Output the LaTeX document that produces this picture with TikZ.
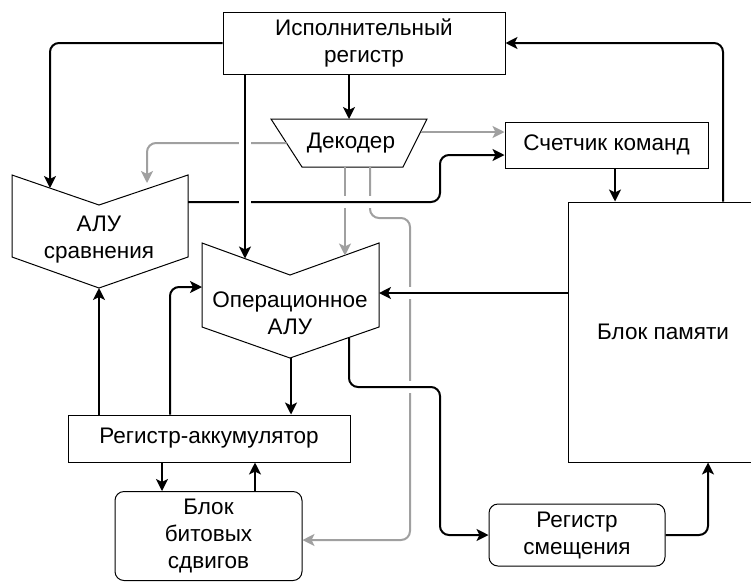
\documentclass[tikz,border=0pt]{standalone}
\usepackage{fontspec}
\setmainfont{Liberation Sans}
\usetikzlibrary{arrows.meta}
\definecolor{ctlgray}{HTML}{A0A0A0}
\begin{document}
\begin{tikzpicture}[x=1pt,y=-1pt,
  every node/.style={font=\fontsize{22.5}{27}\selectfont, align=center, inner sep=0pt},
  box/.style={draw, line width=1pt, rectangle},
  rbox/.style={box, rounded corners=9pt},
  shapeline/.style={draw, line width=1pt, line join=miter},
  conn/.style={draw=black, line width=2pt, rounded corners=9pt,
    -{Stealth[length=12pt,width=12pt,inset=3pt]}},
  ctl/.style={draw=ctlgray, line width=2pt, rounded corners=9pt,
    -{Stealth[length=12pt,width=12pt,inset=3pt]}},
  gapcut/.style={draw=white, line width=5pt}]
\useasboundingbox (0,0) rectangle (751,582);
\fill[white] (0,0) rectangle (751,582);

% ---- rectangular blocks ----
\node[box, minimum width=282pt, minimum height=62pt] (ireg) at (364,43) {Исполнительный\\регистр};
\node[box, minimum width=203pt, minimum height=46pt] (cnt) at (606.5,145) {Счетчик команд};
\node[box, minimum width=190pt, minimum height=260pt] (mem) at (663,332) {Блок памяти};
\node[box, minimum width=282pt, minimum height=47pt] (acc) at (209,438.5) {Регистр-аккумулятор};
\node[rbox, minimum width=187pt, minimum height=89pt] (shift) at (208.5,536) {Блок\\битовых\\сдвигов};
\node[rbox, minimum width=176pt, minimum height=62pt] (disp) at (577,535) {Регистр\\смещения};

% ---- decoder (trapezoid) ----
\draw[shapeline] (271,119) -- (427,119) -- (403,167) -- (302,167) -- cycle;
\node (dec) at (351,143) {Декодер};

% ---- comparison ALU ----
\draw[shapeline] (12,175) -- (99,205) -- (188,175) -- (188,257) -- (99,288) -- (12,257) -- cycle;
\node (cmp) at (99,240) {АЛУ\\сравнения};

% ---- operational ALU ----
\draw[shapeline] (202,243) -- (290,275) -- (379,243) -- (379,327) -- (290,358) -- (202,327) -- cycle;
\node (opalu) at (290,313) {Операционное\\АЛУ};

% ---- connection points on the ALU outlines ----
\coordinate (cmpA) at (50,188);
\coordinate (cmpB) at (147,183);
\coordinate (cmpR) at (188,202);
\coordinate (cmpD) at (99,288);
\coordinate (opA) at (245,258.5);
\coordinate (opB) at (345,255.5);
\coordinate (opL) at (202,287);
\coordinate (opR) at (379,293);
\coordinate (opD) at (291,358);
\coordinate (opE) at (349,337.5);
\coordinate (decL) at (286.5,143);
\coordinate (decR) at (420.5,132);

% ---- control lines from the decoder ----
\draw[ctl] (decL) -| (cmpB);
\draw[ctl] (decR) -- (cnt.west |- decR);
\draw[ctl] (345,167) -- (opB);
\draw[ctl] (370,167) -- (370,218) -- (410,218) -- (410,540) -- (shift.east |- 0,540);

% breaks in the grey lines where black lines pass over
\draw[gapcut] (239,143) -- (251,143);
\draw[gapcut] (345,196) -- (345,208);
\draw[gapcut] (370,196) -- (370,208);
\draw[gapcut] (410,287) -- (410,299);
\draw[gapcut] (410,381) -- (410,393);

% ---- data lines ----
\draw[conn] (cmpR) -- (440,202) -- (440,155) -- (cnt.west |- 0,155);
\draw[gapcut] (239,202) -- (251,202);
\draw[conn] (ireg.west) -| (cmpA);
\draw[conn] (ireg.south -| 245,0) -- (opA);
\draw[conn] (ireg.south -| 349,0) -- (349,119);
\draw[conn] (mem.north -| 723,0) |- (ireg.east);
\draw[conn] (cnt.south -| 615,0) -- (mem.north -| 615,0);
\draw[conn] (mem.west |- opR) -- (opR);
\draw[conn] (opE) -- (349,387) -- (440,387) -- (440,535) -- (disp.west);
\draw[conn] (disp.east) -| (mem.south -| 708,0);
\draw[conn] (opD) -- (acc.north -| opD);
\draw[conn] (acc.north -| cmpD) -- (cmpD);
\draw[conn] (acc.north -| 170,0) |- (opL);
\draw[conn] (acc.south -| 162,0) -- (shift.north -| 162,0);
\draw[conn] (shift.north -| 255,0) -- (acc.south -| 255,0);
\end{tikzpicture}
\end{document}
